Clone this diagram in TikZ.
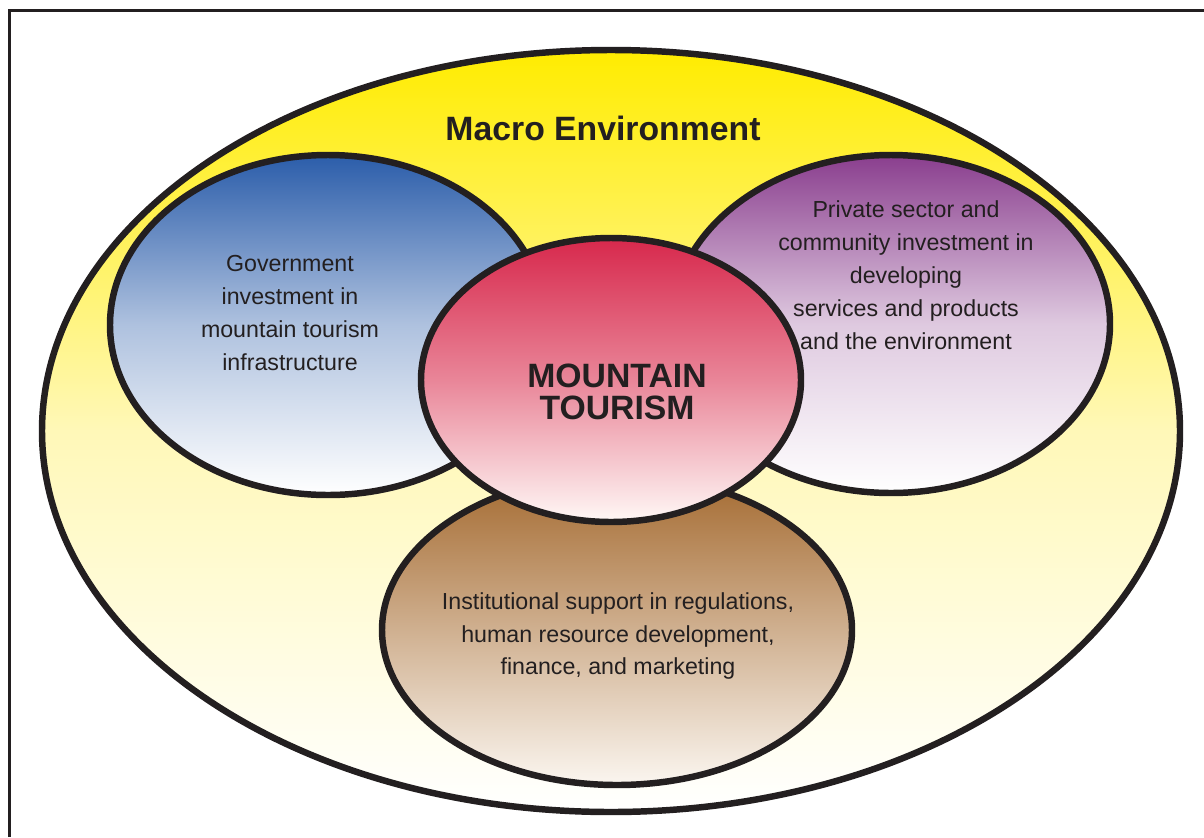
\documentclass[tikz,border=0pt]{standalone}
\usepackage{fontspec}
\setsansfont{Liberation Sans}
\definecolor{ink}{HTML}{231F20}
\definecolor{macrotop}{HTML}{FFEC00}
\definecolor{macromid}{HTML}{FFF8B8}
\definecolor{govtop}{HTML}{2B5DAA}
\definecolor{privtop}{HTML}{8A3E8E}
\definecolor{coretop}{HTML}{D7284C}
\definecolor{coreend}{HTML}{FFF8F6}
\definecolor{insttop}{HTML}{A46A30}
\definecolor{instend}{HTML}{FBF6F0}
\begin{document}
\begin{tikzpicture}[x=0.025cm,y=-0.025cm,
        rim/.style={draw=ink,line width=4.6pt},
        body/.style={font=\sffamily\fontsize{16.5}{23.4}\selectfont,text=ink,align=center},
        head/.style={font=\sffamily\bfseries\fontsize{24}{22.5}\selectfont,text=ink,align=center}]
    \useasboundingbox (0,0) rectangle (1204,837);
    % frame
    \draw [ink, line width=1.8pt] (9.5,837) -- (9.5,10.5) -- (1204,10.5);
    % circles
    \draw [rim, top color=macrotop, bottom color=white, middle color=macromid] (611,431) ellipse (569 and 381);
    \draw [rim, top color=govtop, bottom color=white, middle color=govtop!38] (328,325) ellipse (218 and 170);
    \draw [rim, top color=privtop, bottom color=white, middle color=privtop!28] (891,324) ellipse (219 and 169);
    \draw [rim, top color=insttop, bottom color=instend, middle color=insttop!50!instend] (617,630) ellipse (235 and 155);
    \draw [rim, top color=coretop, bottom color=coreend, middle color=coretop!55!coreend] (611,380) ellipse (190 and 142);
    % labels
    \node [head] (macro) at (603,128) {Macro Environment};
    \node [head] (core) at (617,392) {MOUNTAIN\\TOURISM};
    \node [body] (gov) at (290,313) {Government\\investment in\\mountain tourism\\infrastructure};
    \node [body] (priv) at (906,275) {Private sector and\\community investment in\\developing\\services and products\\and the environment};
    \node [body] (inst) at (618,636) {Institutional support in regulations,\\human resource development,\\finance, and marketing};
\end{tikzpicture}
\end{document}
